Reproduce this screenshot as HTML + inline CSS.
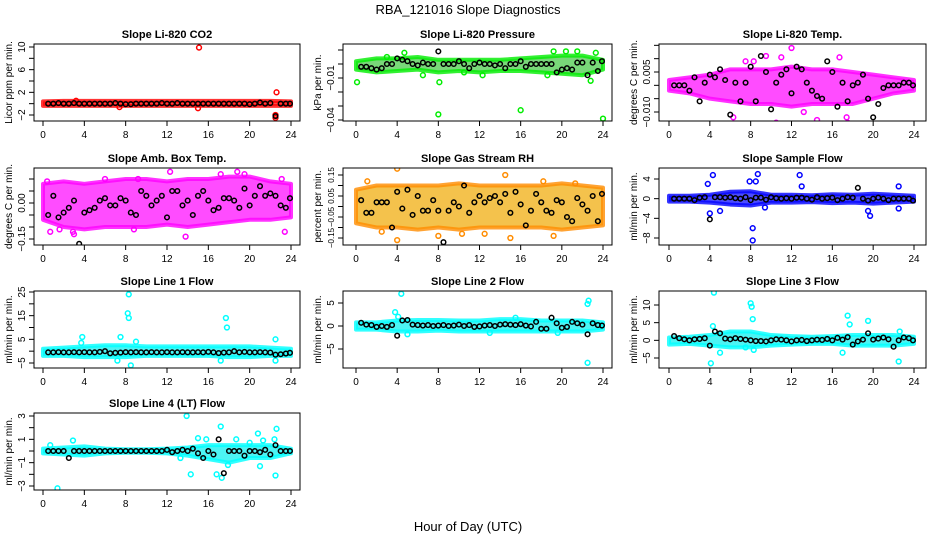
<!DOCTYPE html>
<html><head><meta charset="utf-8"><style>
body{margin:0;background:#fff}
svg{display:block;font-family:"Liberation Sans",sans-serif}
</style></head><body>
<svg id="chart" width="936" height="540" viewBox="0 0 936 540">
<rect width="936" height="540" fill="#fff"/>
<text x="468" y="14" font-size="13" text-anchor="middle">RBA_121016  Slope Diagnostics</text>
<text x="468" y="531" font-size="13" text-anchor="middle">Hour of Day (UTC)</text>
</svg>
<script>
const blackHours=[0.5,1,1.5,2,2.5,3,3.5,4,4.5,5,5.5,6,6.5,7,7.5,8,8.5,9,9.5,10,10.5,11,11.5,12,12.5,13,13.5,14,14.5,15,15.5,16,16.5,17,17.5,18,18.5,19,19.5,20,20.5,21,21.5,22,22.5,23,23.5,23.9];
const bandHours=[0,2,4,6,8,10,12,14,16,18,20,22,24];
const xTicks=[0,4,8,12,16,20,24];

const co2Black=[0,0,0.1,0,0,0.1,0,0,0,0,0,0,0,0.1,0,-0.1,-0.1,0,0,0,0,0,0.1,0,0,0.1,0,0,0,0,0,0,0,0,0,0,0,0,0,-0.1,0,0.2,0,0.1,-2.2,0,0,0];
const co2BandLow=[-0.4,-0.4,-0.4,-0.4,-0.4,-0.4,-0.4,-0.4,-0.4,-0.4,-0.4,-0.4,-0.4];
const co2BandHigh=[0.4,0.5,0.5,0.5,0.5,0.5,0.5,0.5,0.5,0.5,0.5,0.5,0.4];
const co2OutHours=[15.1,22.6,22.5,22.5,15,3.2,7.4];
const co2OutVals=[9.9,2,-2,-2.5,-0.8,0.5,-0.6];

const presBlack=[-0.002,-0.002,-0.003,-0.004,-0.003,0,0,0.004,0.003,0.002,0,-0.001,0.001,0,0,0.009,0,0,0,0.002,0,-0.003,0,0.001,0,0,-0.001,0,-0.003,0,0,0.002,-0.002,0,0,0,0,0,-0.006,-0.004,-0.003,-0.004,0.001,0.001,-0.008,0.001,-0.005,0.002];
const presBandLow=[-0.004,-0.006,-0.005,-0.004,-0.006,-0.005,-0.006,-0.005,-0.005,-0.006,-0.007,-0.008,-0.004];
const presBandHigh=[0.002,0.004,0.004,0.005,0.003,0.003,0.003,0.003,0.004,0.005,0.006,0.006,0.003];
const presOutHours=[0.1,8,16,24,4.7,19.2,20.4,21.5,23.3,6.5,12.3,22.8,8.1,3,18.6,10.5];
const presOutVals=[-0.013,-0.036,-0.033,-0.039,0.008,0.009,0.009,0.009,0.008,-0.008,-0.008,-0.012,-0.013,0.005,-0.008,-0.006];

const litBlack=[0,0,0,-0.002,0.003,-0.006,0.001,0.004,0.003,0.006,0.002,-0.011,0.001,-0.006,0.001,0.007,-0.006,0.011,0.005,-0.009,0.001,0.004,0.006,-0.003,0.007,0.006,0.001,-0.002,-0.004,-0.005,0.009,0.005,-0.008,0.001,-0.006,0,0.001,0.004,-0.005,-0.012,-0.007,-0.001,0,0,0,0.001,0.001,0];
const litBandLow=[-0.002,-0.003,-0.005,-0.006,-0.007,-0.007,-0.008,-0.007,-0.007,-0.007,-0.005,-0.003,-0.002];
const litBandHigh=[0.002,0.003,0.004,0.006,0.006,0.006,0.007,0.006,0.006,0.005,0.004,0.003,0.002];
const litOutHours=[12,10.5,14.5,17.5,8.3,16.7,11,9.5,17.4,6.3,7.5,13.2];
const litOutVals=[0.014,-0.014,-0.013,-0.014,0.009,0.0105,0.0105,0.011,-0.012,-0.012,0.009,-0.01];

const ambBlack=[-0.05,0.03,-0.06,-0.04,-0.02,0.01,-0.17,-0.04,-0.03,-0.02,0.01,0.02,-0.01,-0.01,0.02,0.01,-0.04,-0.05,0.05,0.03,-0.01,0.01,0.03,-0.06,0.05,0.05,-0.01,0.01,-0.05,0.03,0.05,0.01,-0.03,-0.02,0.02,0.02,0.01,-0.02,0.06,-0.01,0.03,0.07,0.03,0.04,0.03,-0.01,-0.02,0.02];
const ambBandLow=[-0.07,-0.1,-0.11,-0.1,-0.1,-0.1,-0.09,-0.1,-0.09,-0.08,-0.07,-0.07,-0.06];
const ambBandHigh=[0.08,0.09,0.08,0.09,0.1,0.1,0.09,0.1,0.1,0.11,0.11,0.09,0.08];
const ambOutHours=[0.4,0.7,1.6,3,6,9.2,12.3,13.8,17.2,18.8,19.5,23.4,23.1,2.9,8.8];
const ambOutVals=[0.09,-0.12,-0.11,-0.13,0.1,0.1,0.13,-0.14,0.12,0.13,0.12,-0.12,0.1,-0.12,-0.11];

const rhBlack=[0.03,-0.03,-0.03,0.02,0.02,0.02,-0.1,0.07,-0.01,0.08,-0.04,0.05,-0.02,-0.02,0.03,-0.02,-0.17,-0.02,0.02,0,0.1,-0.03,0.02,0.05,0.02,0.04,0.05,0.02,0.06,-0.03,0.07,0.01,-0.09,-0.02,0.06,0.02,-0.02,-0.03,0.03,0.02,-0.05,-0.07,0.04,0.01,-0.02,0.05,-0.07,0.06];
const rhBandLow=[-0.08,-0.1,-0.1,-0.11,-0.1,-0.11,-0.1,-0.1,-0.1,-0.1,-0.11,-0.1,-0.09];
const rhBandHigh=[0.08,0.1,0.1,0.1,0.1,0.11,0.1,0.1,0.1,0.1,0.11,0.1,0.09];
const rhOutHours=[4,1.1,14.5,18.2,21.3,4,8,10.3,15,19.2,2.5,12.5];
const rhOutVals=[0.18,0.12,0.15,0.12,0.11,-0.16,-0.14,-0.13,-0.15,-0.14,-0.12,-0.13];

const sfBlack=[0,0,0,0,-0.3,0.2,0.3,-4.2,0.3,0.3,0.2,0.3,0.1,0,0.3,-0.3,0.2,0.2,-0.2,0.3,0.1,0,0.1,0,0.2,0.2,0,-0.2,0.3,0,0.1,0.2,-0.3,0,0.3,0.2,2.2,0,-0.4,0,0.2,0,-0.3,0,0,0,0,-0.4];
const sfBandLow=[-0.6,-0.6,-0.8,-1.2,-1.4,-0.8,-0.8,-0.7,-0.9,-0.8,-1,-0.8,-0.6];
const sfBandHigh=[0.6,0.6,0.8,1.4,1.5,0.8,0.8,0.7,0.9,0.8,1,0.8,0.6];
const sfOutHours=[8.2,8.2,8.7,12.8,4.3,3.8,7.9,8.5,19.5,22.5,22.5,4,5,13,19.7,9.4];
const sfOutVals=[-6,-8.5,5,4.8,4.8,3,3.5,3.5,-2.5,-2,2.5,-3,-2.5,2.5,-3.5,-1.8];

const l1Black=[-0.5,-0.5,-0.4,-0.5,-0.5,-0.4,-0.5,-0.4,-0.5,-0.5,-0.3,0,-0.9,-0.7,-0.6,-0.4,-0.5,-0.4,-0.5,-0.5,-0.4,-0.5,-0.5,-0.4,-0.5,-0.5,-0.4,-0.5,-0.5,-0.4,-0.5,-0.3,-0.5,-0.8,-0.6,-0.5,0,-0.5,-0.3,-0.5,-0.5,-0.4,-0.5,-0.6,-1.5,-1.3,-1,-0.7];
const l1BandLow=[-2,-2,-2.5,-2.5,-2.5,-2,-2,-2,-2,-2.5,-2.5,-2,-2];
const l1BandHigh=[1,1.5,2,2.5,2.5,2,2,2,2,2,2,1.5,1];
const l1OutHours=[8.3,8.2,8.3,17.7,17.8,3.8,7.5,8.5,22.5,22.5,17.2,9,3.7,7.2];
const l1OutVals=[24,16,14,14,10,6,6,-6,5,-4,-4,4,3.5,-4];

const l2Black=[0.7,0.3,0.2,-0.2,0,-0.2,0.2,-2.1,1.2,1.3,0.3,0.2,0.1,0.2,0,0.1,0.2,0,0.1,0.3,0,0.2,-0.2,-0.1,0.1,0.2,0,0.3,0.4,0.3,0.2,0.4,0.1,-0.1,0.9,-0.6,-0.6,1.8,0.6,-0.4,-0.2,0.9,0.6,0.3,-1.8,0.6,0.2,0.1];
const l2BandLow=[-0.8,-0.8,-1.2,-1.2,-1,-1.2,-1.2,-1.2,-1.2,-1.2,-1.2,-1.2,-0.8];
const l2BandHigh=[0.8,0.8,1.2,1.3,1.3,1.2,1.2,1.5,1.5,1.2,1.2,1.2,0.8];
const l2OutHours=[4.4,3.8,4.1,22.6,22.5,22.5,5,19.6,13,15.5];
const l2OutVals=[7,3,2,5.5,4.8,-8,-1.8,-1.5,-1.5,1.8];

const l3Black=[1.2,0.6,0.3,0,0.3,0.4,0.6,-1.5,2.5,2,0.5,0.3,0.6,0.4,0.2,0,-0.2,-0.2,-0.3,0,0.3,0.2,0,-0.3,0,0.1,-0.2,0,0.2,0.1,0.4,0,0.7,0.2,0.9,-1.2,-0.3,0.2,2,0.2,0.5,0.8,0.3,-1.8,0,0.8,0.6,0];
const l3BandLow=[-1.2,-1,-1.5,-2,-2,-1.5,-1.2,-1,-1,-1.5,-1.5,-1.5,-1];
const l3BandHigh=[0.8,1,1.5,2.5,2.5,1.5,1.2,1,1.2,1.5,1.5,1.5,1];
const l3OutHours=[4.4,8,8.1,8.2,4.3,4.1,22.5,17.5,17.7,19.5,8.3,7.5,17,5,22.6];
const l3OutVals=[13.5,10.5,9.5,6,4,-6.5,-6,7,4.5,5.5,-2.7,-2,-3.5,-3.5,2.5];

const l4Black=[0,0,0,0,-0.6,0,0,0,0,0,0,0,0,0,0,0,0,0,0,0,0,0,0,0.1,-0.1,0,0.1,0,0.2,-0.2,-0.6,0,-0.3,1,-1.9,0,0,0,-0.4,0,0,-0.1,0.1,-0.3,0.5,0,0,0];
const l4BandLow=[-0.2,-0.3,-0.4,-0.2,-0.15,-0.15,-0.2,-0.4,-0.7,-1,-0.6,-0.6,-0.2];
const l4BandHigh=[0.2,0.3,0.4,0.2,0.15,0.15,0.2,0.3,0.5,0.5,0.5,0.5,0.2];
const l4OutHours=[13.9,1.4,17.2,22.6,20.8,17.3,16.8,14.3,22.5,2.9,15,15.8,18.7,21.3,22.4,20,0.7,13.3,17.9,21];
const l4OutVals=[3,-3.2,2.1,1.9,1.5,-2.3,-2,-2,-2.1,0.9,1.1,1,1,0.9,1,0.7,0.5,-0.6,-1.2,-1.3];

const panelTitles=["Slope Li-820 CO2","Slope Li-820 Pressure","Slope Li-820 Temp.","Slope Amb. Box Temp.","Slope Gas Stream RH","Slope Sample Flow","Slope Line 1 Flow","Slope Line 2 Flow","Slope Line 3 Flow","Slope Line 4 (LT) Flow"];

const svg=document.getElementById('chart');
const NS='http://www.w3.org/2000/svg';
function mk(tag,attrs,parent){const e=document.createElementNS(NS,tag);for(const k in attrs)e.setAttribute(k,attrs[k]);(parent||svg).appendChild(e);return e;}
const cols=[{bl:34,br:300,x0:43,x1:291},{bl:343,br:612,x0:356,x1:603},{bl:659,br:926,x0:669,x1:914}];
const rowTop=[44,168,291,413];const boxH=77;
const panels=[
 {r:0,c:0,ylab:"Licor ppm per min.",ref:[10,47,-2,115],ticks:[-2,0,2,4,6,8,10],labs:[-2,2,6,10],dec:0,col:"#ff0000",band:"#ff0000",blk:co2Black,lo:co2BandLow,hi:co2BandHigh,oh:co2OutHours,ov:co2OutVals,key:"co2"},
 {r:0,c:1,ylab:"kPa per min.",ref:[0.01,50,-0.04,120],ticks:[0.01,0,-0.01,-0.02,-0.03,-0.04],labs:[-0.01,-0.04],dec:2,col:"#00ee00",band:"#40c840",blk:presBlack,lo:presBandLow,hi:presBandHigh,oh:presOutHours,ov:presOutVals,key:"pressure"},
 {r:0,c:2,ylab:"degrees C per min.",ref:[0.005,72,-0.01,112],ticks:[0.015,0.01,0.005,0,-0.005,-0.01],labs:[0.005,-0.01],dec:3,col:"#ff00ff",band:"#ff00ff",blk:litBlack,lo:litBandLow,hi:litBandHigh,oh:litOutHours,ov:litOutVals,key:"li-temp"},
 {r:1,c:0,ylab:"degrees C per min.",ref:[0,203,-0.15,239],ticks:[0.1,0.05,0,-0.05,-0.1,-0.15],labs:[0,-0.15],dec:2,col:"#ff00ff",band:"#ff00ff",blk:ambBlack,lo:ambBandLow,hi:ambBandHigh,oh:ambOutHours,ov:ambOutVals,key:"amb-temp"},
 {r:1,c:1,ylab:"percent per min.",ref:[0.15,175,-0.15,238],ticks:[0.15,0.1,0.05,0,-0.05,-0.1,-0.15],labs:[0.15,0.05,-0.05,-0.15],dec:2,col:"#ff8c00",band:"#f0a800",blk:rhBlack,lo:rhBandLow,hi:rhBandHigh,oh:rhOutHours,ov:rhOutVals,key:"rh"},
 {r:1,c:2,ylab:"ml/min per min.",ref:[4,179,-8,238],ticks:[4,0,-4,-8],labs:[4,0,-4,-8],dec:0,col:"#0000ff",band:"#0000ff",blk:sfBlack,lo:sfBandLow,hi:sfBandHigh,oh:sfOutHours,ov:sfOutVals,key:"sample-flow"},
 {r:2,c:0,ylab:"ml/min per min.",ref:[25,292,-5,363],ticks:[25,20,15,10,5,0,-5],labs:[25,15,5,-5],dec:0,col:"#00ffff",band:"#00f0f0",blk:l1Black,lo:l1BandLow,hi:l1BandHigh,oh:l1OutHours,ov:l1OutVals,key:"line1"},
 {r:2,c:1,ylab:"ml/min per min.",ref:[5,303,-5,349],ticks:[5,0,-5],labs:[5,0,-5],dec:0,col:"#00ffff",band:"#00f0f0",blk:l2Black,lo:l2BandLow,hi:l2BandHigh,oh:l2OutHours,ov:l2OutVals,key:"line2"},
 {r:2,c:2,ylab:"ml/min per min.",ref:[10,305,-5,358],ticks:[10,5,0,-5],labs:[10,5,0,-5],dec:0,col:"#00ffff",band:"#00f0f0",blk:l3Black,lo:l3BandLow,hi:l3BandHigh,oh:l3OutHours,ov:l3OutVals,key:"line3"},
 {r:3,c:0,ylab:"ml/min per min.",ref:[3,416,-3,486],ticks:[3,2,1,0,-1,-2,-3],labs:[3,1,-1,-3],dec:0,col:"#00ffff",band:"#00f0f0",blk:l4Black,lo:l4BandLow,hi:l4BandHigh,oh:l4OutHours,ov:l4OutVals,key:"line4"}
];
panels.forEach((p,i)=>{
 const C=cols[p.c],top=rowTop[p.r],bot=top+boxH;
 const xs=h=>C.x0+(C.x1-C.x0)*h/24;
 const ys=v=>p.ref[1]+(v-p.ref[0])*(p.ref[3]-p.ref[1])/(p.ref[2]-p.ref[0]);
 const g=mk('g',{});
 
 
 const t=mk('text',{x:(C.bl+C.br)/2,y:top-6,'font-size':11,'font-weight':'bold','text-anchor':'middle'},g);t.textContent=panelTitles[i];
 
 
 const clipId='clip'+i;
 const cp=mk('clipPath',{id:clipId},g);mk('rect',{x:C.bl,y:top,width:C.br-C.bl,height:boxH},cp);
 const pg=mk('g',{'clip-path':'url(#'+clipId+')'},g);
 let d='';
 bandHours.forEach((h,k)=>{d+=(k?'L':'M')+xs(h)+','+ys(p.hi[k]);});
 for(let k=bandHours.length-1;k>=0;k--)d+='L'+xs(bandHours[k])+','+ys(p.lo[k]);
 const band=mk('path',{d:d+'Z',fill:p.band,stroke:p.col,'stroke-width':4,'stroke-linejoin':'round','fill-opacity':0.7,'stroke-opacity':0.8},pg);
 
 
 p.oh.forEach((h,k)=>{
  const c=mk('circle',{cx:xs(h),cy:ys(p.ov[k]),r:2.4,fill:'none',stroke:p.col,'stroke-width':1.5},pg);
  
  
 });
 p.blk.forEach((v,k)=>{
  const c=mk('circle',{cx:xs(blackHours[k]),cy:ys(v),r:2.3,fill:'none',stroke:'#000','stroke-width':1.5},pg);
  
  
 });
 const box=mk('rect',{x:C.bl,y:top,width:C.br-C.bl,height:boxH,fill:'none',stroke:'#000','stroke-width':1},g);
 
 
 mk('line',{x1:xs(0),x2:xs(24),y1:bot,y2:bot,stroke:'#000'},g);
 xTicks.forEach(h=>{
  mk('line',{x1:xs(h),x2:xs(h),y1:bot,y2:bot+5,stroke:'#000'},g);
  const tl=mk('text',{x:xs(h),y:bot+17,'font-size':10,'text-anchor':'middle'},g);tl.textContent=h;
  
  
 });
 const ty=p.ticks.map(ys);
 mk('line',{x1:C.bl,x2:C.bl,y1:Math.min(...ty),y2:Math.max(...ty),stroke:'#000'},g);
 p.ticks.forEach(v=>mk('line',{x1:C.bl-5,x2:C.bl,y1:ys(v),y2:ys(v),stroke:'#000'},g));
 const fs=p.labs.length>3&&p.dec>1?8:10;
 p.labs.forEach(v=>{
  const s=(v<0?'\u2212':'')+Math.abs(v).toFixed(p.dec);
  const tl=mk('text',{x:0,y:0,'font-size':fs,'text-anchor':'middle',transform:'translate('+(C.bl-9)+','+ys(v)+') rotate(-90)'},g);tl.textContent=s;
  
  
 });
 const yl=mk('text',{x:0,y:0,'font-size':10,'text-anchor':'middle',transform:'translate('+(C.bl-22)+','+(top+boxH/2)+') rotate(-90)'},g);yl.textContent=p.ylab;
 
 
});
</script>
</body></html>
